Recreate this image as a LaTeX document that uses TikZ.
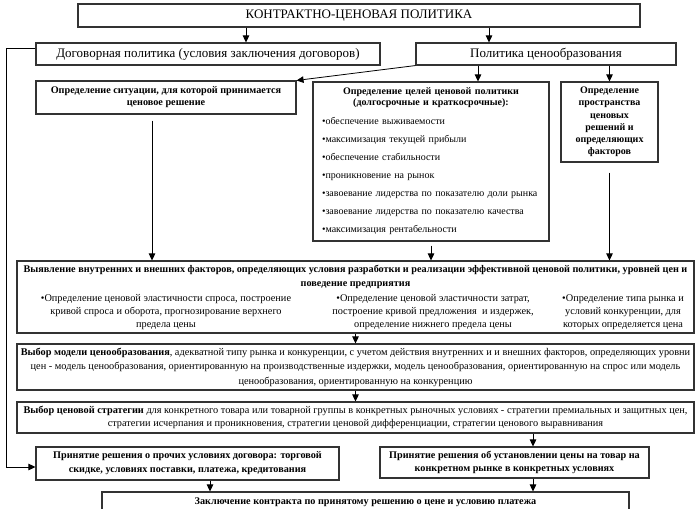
\documentclass[tikz,border=0pt]{standalone}
\usepackage{fontspec}
\setmainfont{Liberation Serif}
\usetikzlibrary{arrows.meta}

\begin{document}
\begin{tikzpicture}[x=1pt, y=-1pt,
  box/.style={draw=black!80, line width=1.1pt, fill=white, inner sep=0pt, align=center},
  arr/.style={-{Triangle[length=7pt,width=6.5pt]}, line width=0.8pt},
  bigtxt/.style={font=\fontsize{13}{15}\selectfont},
  head/.style={font=\fontsize{10.2}{12}\selectfont\bfseries, align=center},
  txt/.style={font=\fontsize{10.3}{13}\selectfont, align=center}]
\useasboundingbox (0,0) rectangle (700,508);

% first two levels
\node[box, bigtxt, minimum width=562, minimum height=23] (top) at (359,15.5) {КОНТРАКТНО-ЦЕНОВАЯ ПОЛИТИКА};
\node[box, bigtxt, minimum width=344, minimum height=22] (dog) at (208,54) {Договорная политика (условия заключения договоров)};
\node[box, bigtxt, minimum width=260, minimum height=22] (cen) at (546,54) {Политика ценообразования};

% third level
\node[box, head, minimum width=260, minimum height=33] (sit) at (166,97.5) {Определение ситуации, для которой принимается\\ценовое решение};
\node[box, minimum width=236, minimum height=159, text width=218, align=left, font=\fontsize{10}{11}\selectfont] (goals) at (431,161.5)
  {\centering\bfseries Определение целей ценовой политики\\(долгосрочные и краткосрочные):\par
   \raggedright\mdseries\vspace{8pt}%
   •обеспечение выживаемости\\[7pt]
   •максимизация текущей прибыли\\[7pt]
   •обеспечение стабильности\\[7pt]
   •проникновение на рынок\\[7pt]
   •завоевание лидерства по показателю доли рынка\\[7pt]
   •завоевание лидерства по показателю качества\\[7pt]
   •максимизация рентабельности};
\node[box, head, font=\fontsize{10}{12.2}\selectfont\bfseries, minimum width=97, minimum height=80] (space) at (609.5,122)
  {Определение\\пространства\\ценовых\\решений и\\определяющих\\факторов};

% factors
\node[box, minimum width=677, minimum height=72] (factors) at (355.5,297) {};
\node[head, font=\fontsize{10.2}{14}\selectfont\bfseries] (ftitle) at (355.5,277)
  {Выявление внутренних и внешних факторов, определяющих условия разработки и реализации эффективной ценовой политики, уровней цен и\\поведение предприятия};
\node[txt] (fa) at (166,312) {•Определение ценовой эластичности спроса, построение\\кривой спроса и оборота, прогнозирование верхнего\\предела цены};
\node[txt] (fb) at (433,312) {•Определение ценовой эластичности затрат,\\построение кривой предложения \ и издержек,\\определение нижнего предела цены};
\node[txt] (fc) at (623,312) {•Определение типа рынка и\\условий конкуренции, для\\которых определяется цена};

% model and strategy
\node[box, txt, font=\fontsize{10.3}{14.5}\selectfont, minimum width=677, minimum height=46] (model) at (355.5,367)
  {\textbf{Выбор модели ценообразования}, адекватной типу рынка и конкуренции, с учетом действия внутренних и и внешних факторов, определяющих уровни\\цен - модель ценообразования, ориентированную на производственные издержки, модель ценообразования, ориентированную на спрос или модель\\ценообразования, ориентированную на конкуренцию};
\node[box, txt, minimum width=677, minimum height=31] (strat) at (355.5,417.5)
  {\textbf{Выбор ценовой стратегии} для конкретного товара или товарной группы в конкретных рыночных условиях - стратегии премиальных и защитных цен,\\стратегии исчерпания и проникновения, стратегии ценовой дифференциации, стратегии ценового выравнивания};

% decisions
\node[box, head, font=\fontsize{10.2}{14}\selectfont\bfseries, minimum width=303, minimum height=33] (other) at (187.5,463.5)
  {Принятие решения о прочих условиях договора: торговой\\скидке, условиях поставки, платежа, кредитования};
\node[box, head, font=\fontsize{10.2}{13}\selectfont\bfseries, minimum width=269, minimum height=31] (price) at (514.5,462.5)
  {Принятие решения об установлении цены на товар на\\конкретном рынке в конкретных условиях};
\node[box, head, minimum width=527, minimum height=20] (contract) at (365.5,502)
  {Заключение контракта по принятому решению о цене и условию платежа};

\coordinate (loop) at (6,300);

% connectors
\draw[arr] ([xshift=38pt]dog.north |- top.south) -- ([xshift=38pt]dog.north);
\draw[arr] ([xshift=-57pt]cen.north |- top.south) -- ([xshift=-57pt]cen.north);
\draw[arr] (cen.south west) -- (sit.north east);
\draw[arr] ([xshift=47pt]goals.north |- cen.south) -- ([xshift=47pt]goals.north);
\draw[arr] (space.north |- cen.south) -- (space.north);
\draw[arr] ([xshift=-14pt,yshift=-6pt]sit.south) -- ([xshift=-14pt]sit.south |- factors.north);
\draw[arr] ([yshift=-4pt]goals.south) -- (goals.south |- factors.north);
\draw[arr] ([yshift=-10pt]space.south) -- (space.south |- factors.north);
\draw[arr] (factors.south) -- (model.north);
\draw[arr] (model.south) -- (strat.north);
\draw[arr] ([xshift=18.5pt]price.north |- strat.south) -- ([xshift=18.5pt]price.north);
\draw[arr] ([xshift=22.5pt]other.south) -- ([xshift=22.5pt]other.south |- contract.north);
\draw[arr] ([xshift=18.5pt]price.south) -- ([xshift=18.5pt]price.south |- contract.north);
\draw[arr] ([yshift=-6pt]dog.north west) -- ([yshift=-6pt]dog.north west -| loop)
  -- ([yshift=-3.5pt]other.west -| loop) -- ([yshift=-3.5pt]other.west);
\end{tikzpicture}
\end{document}
